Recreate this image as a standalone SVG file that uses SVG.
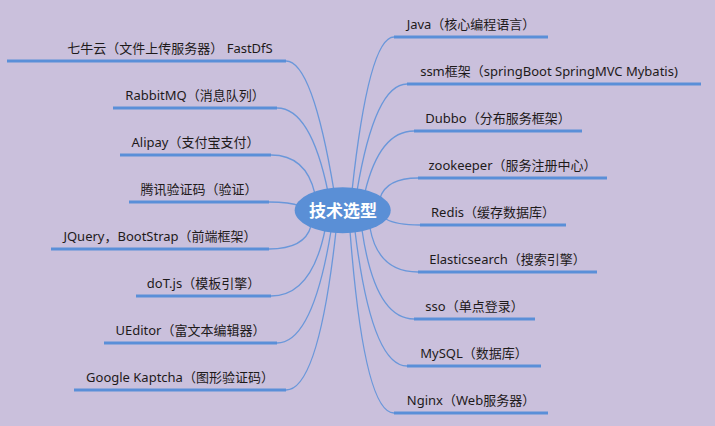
<svg xmlns="http://www.w3.org/2000/svg" width="715" height="426" viewBox="0 0 715 426">
<style>
.bg{fill:#CAC0DC}
.conn{fill:none;stroke:#6A97DA;stroke-width:1.3}
.ul{stroke:#5A8FD8;stroke-width:3;fill:none}
.lbl{font-family:"Noto Sans","Noto Sans CJK SC",sans-serif;font-size:13px;fill:#1E1A1A;text-anchor:middle}
.root{fill:#5A8FD6}
.rootText{font-family:"Noto Sans CJK SC",sans-serif;font-size:17px;font-weight:bold;fill:#FFFFFF;text-anchor:middle}
</style>
<rect class="bg" x="0" y="0" width="715" height="426"/>
<g id="connectors">
<path class="conn" d="M286,61 Q312.4,61 334,191"/>
<path class="conn" d="M277,108 Q310.7,108 328,192"/>
<path class="conn" d="M271,155 Q306.2,155 315,194"/>
<path class="conn" d="M269,202 Q290,202 300,206"/>
<path class="conn" d="M269,249 Q304.7,249 311,226"/>
<path class="conn" d="M271,296 Q311.5,296 325,230"/>
<path class="conn" d="M277,343 Q312.6,343 331,231"/>
<path class="conn" d="M286,390 Q318.5,390 336,231"/>
<path class="conn" d="M394,37 Q368.8,37 352,191"/>
<path class="conn" d="M407,84 Q375,84 357,191"/>
<path class="conn" d="M414,131 Q379.7,131 365,192"/>
<path class="conn" d="M418,178 Q386.5,178 380,198"/>
<path class="conn" d="M420,225 Q396,225 386,219"/>
<path class="conn" d="M418,272 Q378,272 370,228"/>
<path class="conn" d="M414,319 Q375,319 362,230"/>
<path class="conn" d="M407,366 Q371.6,366 355,231"/>
<path class="conn" d="M394,413 Q364,413 350,231"/>
</g>
<g id="root">
<ellipse class="root" cx="342.7" cy="210.3" rx="48" ry="23"/>
<text class="rootText" x="343" y="217">技术选型</text>
</g>
<g id="n-qiniu"><line class="ul" x1="7" y1="61" x2="286" y2="61"/><text class="lbl" x="170" y="53">七牛云（文件上传服务器） FastDfS</text></g>
<g id="n-rabbitmq"><line class="ul" x1="113" y1="108" x2="277" y2="108"/><text class="lbl" x="195" y="100">RabbitMQ（消息队列）</text></g>
<g id="n-alipay"><line class="ul" x1="120" y1="155" x2="271" y2="155"/><text class="lbl" x="195.5" y="147">Alipay（支付宝支付）</text></g>
<g id="n-tencent"><line class="ul" x1="129" y1="202" x2="269" y2="202"/><text class="lbl" x="199" y="194">腾讯验证码（验证）</text></g>
<g id="n-jquery"><line class="ul" x1="51" y1="249" x2="269" y2="249"/><text class="lbl" x="160" y="241">JQuery，BootStrap（前端框架）</text></g>
<g id="n-dot"><line class="ul" x1="136" y1="296" x2="271" y2="296"/><text class="lbl" x="203.5" y="288">doT.js（模板引擎）</text></g>
<g id="n-ueditor"><line class="ul" x1="104" y1="343" x2="277" y2="343"/><text class="lbl" x="190.5" y="335">UEditor（富文本编辑器）</text></g>
<g id="n-kaptcha"><line class="ul" x1="74" y1="390" x2="286" y2="390"/><text class="lbl" x="180" y="382">Google Kaptcha（图形验证码）</text></g>
<g id="n-java"><line class="ul" x1="394" y1="37" x2="548" y2="37"/><text class="lbl" x="471" y="29">Java（核心编程语言）</text></g>
<g id="n-ssm"><line class="ul" x1="407" y1="84" x2="701" y2="84"/><text class="lbl" x="549" y="76">ssm框架（springBoot SpringMVC Mybatis)</text></g>
<g id="n-dubbo"><line class="ul" x1="414" y1="131" x2="582" y2="131"/><text class="lbl" x="498" y="123">Dubbo（分布服务框架）</text></g>
<g id="n-zookeeper"><line class="ul" x1="418" y1="178" x2="607" y2="178"/><text class="lbl" x="512.5" y="170">zookeeper（服务注册中心）</text></g>
<g id="n-redis"><line class="ul" x1="420" y1="225" x2="566" y2="225"/><text class="lbl" x="493" y="217">Redis（缓存数据库）</text></g>
<g id="n-elastic"><line class="ul" x1="418" y1="272" x2="597" y2="272"/><text class="lbl" x="507.5" y="264">Elasticsearch（搜索引擎）</text></g>
<g id="n-sso"><line class="ul" x1="414" y1="319" x2="535" y2="319"/><text class="lbl" x="474.5" y="311">sso（单点登录）</text></g>
<g id="n-mysql"><line class="ul" x1="407" y1="366" x2="541" y2="366"/><text class="lbl" x="474" y="358">MySQL（数据库）</text></g>
<g id="n-nginx"><line class="ul" x1="394" y1="413" x2="548" y2="413"/><text class="lbl" x="471" y="405">Nginx（Web服务器）</text></g>
</svg>
